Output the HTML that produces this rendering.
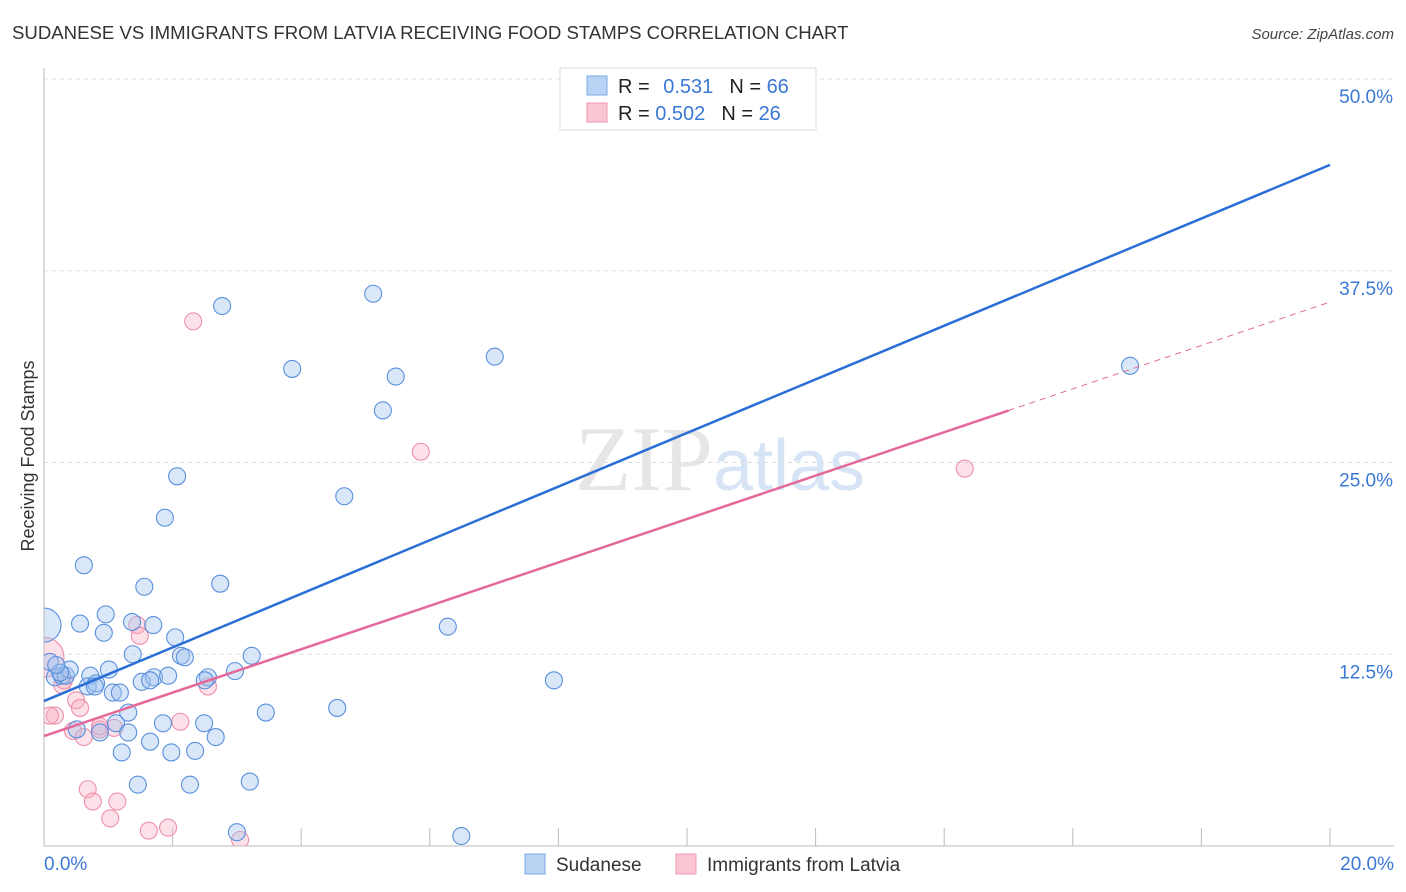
<!DOCTYPE html>
<html><head><meta charset="utf-8">
<style>
body{margin:0;background:#fff;font-family:"Liberation Sans",sans-serif;}
</style></head>
<body>
<svg id="chart" width="1406" height="892" xmlns="http://www.w3.org/2000/svg" style="display:block">
<text x="12" y="39" font-size="18.6" fill="#333">SUDANESE VS IMMIGRANTS FROM LATVIA RECEIVING FOOD STAMPS CORRELATION CHART</text>
<text x="1394" y="39" font-size="15" fill="#444" text-anchor="end" font-style="italic">Source: ZipAtlas.com</text>
<text x="720" y="490" font-size="92" text-anchor="middle" fill="#e6e6e6" font-family="Liberation Serif,serif">ZIP<tspan fill="#d6e4f5" font-family="Liberation Sans,sans-serif" font-size="72">atlas</tspan></text>
<g id="grid"></g>
<g id="axes"></g>
<g id="points"></g>
<g id="lines"></g>
<text transform="translate(34,456) rotate(-90)" font-size="18" fill="#333" text-anchor="middle">Receiving Food Stamps</text>
<g>
<rect x="560" y="68" width="256" height="62" fill="#fff" stroke="#ddd"/>
<rect x="587" y="76" width="20" height="19" fill="#b9d3f5" stroke="#7aa8e6"/>
<rect x="587" y="103" width="20" height="19" fill="#fbc6d4" stroke="#ef97b0"/>
<text x="618" y="93" font-size="20" fill="#222">R = <tspan fill="#3a78d4" dx="8">0.531</tspan><tspan dx="16" fill="#222">N = </tspan><tspan fill="#3a78d4">66</tspan></text>
<text x="618" y="120" font-size="20" fill="#222">R = <tspan fill="#3a78d4">0.502</tspan><tspan dx="16" fill="#222">N = </tspan><tspan fill="#3a78d4">26</tspan></text>
</g>
<g>
<rect x="525" y="854" width="20" height="20" fill="#b9d3f5" stroke="#7aa8e6"/>
<text x="556" y="871" font-size="19" fill="#333">Sudanese</text>
<rect x="676" y="854" width="20" height="20" fill="#fbc6d4" stroke="#ef97b0"/>
<text x="707" y="871" font-size="19" fill="#333">Immigrants from Latvia</text>
</g>
</svg>
<script>
const yTicks=[12.5,25,37.5,50];
const yTickLabels=["12.5%","25.0%","37.5%","50.0%"];
const xTickLabels=["0.0%","20.0%"];
const blueX=[0.0,0.09,0.17,0.28,0.34,0.40,0.25,0.62,0.56,0.72,0.68,0.81,0.93,0.96,1.01,1.07,1.18,0.87,0.51,1.12,1.31,1.31,1.21,1.38,1.37,1.52,1.56,1.70,1.71,1.93,1.85,1.65,1.98,1.46,1.88,2.07,2.04,2.13,2.19,2.55,2.49,2.35,2.67,2.27,2.74,2.77,2.97,3.23,3.45,3.20,3.00,3.86,4.67,4.56,5.12,5.27,5.47,6.28,6.49,7.01,7.93,16.89,0.19,0.79,2.50,1.65];
const blueY=[14.4,12.0,11.0,11.1,11.1,11.5,11.3,18.3,14.5,11.1,10.4,10.6,13.9,15.1,11.5,10.0,10.0,7.4,7.6,8.0,8.7,7.4,6.1,12.5,14.6,10.7,16.9,14.4,11.0,11.1,8.0,6.8,6.1,4.0,21.4,24.1,13.6,12.4,12.3,11.0,8.0,6.2,7.1,4.0,17.1,35.2,11.4,12.4,8.7,4.2,0.9,31.1,22.8,9.0,36.0,28.4,30.6,14.3,0.65,31.9,10.8,31.3,11.8,10.4,10.8,10.8];
const pinkX=[0.0,0.17,0.09,0.28,0.50,0.56,0.45,0.62,0.87,1.09,1.45,1.49,0.68,0.76,1.03,1.14,1.63,1.93,2.12,2.55,3.05,2.32,5.86,14.32,0.31,0.87];
const pinkY=[12.3,8.5,8.5,10.5,9.5,9.0,7.5,7.1,7.6,7.7,14.4,13.7,3.7,2.9,1.8,2.9,1.0,1.2,8.1,10.4,0.4,34.2,25.7,24.6,10.8,7.8];
const blueLine=[9.45,44.4];
const pinkLine=[7.17,35.46];
const pinkSolidEnd=15.0;
const NS="http://www.w3.org/2000/svg";
const X0=44,X1=1330,Y0=846,PY=15.34;
const sx=v=>X0+(X1-X0)*v/20, sy=v=>Y0-v*PY;
function mk(t,a,p){const e=document.createElementNS(NS,t);for(const k in a)e.setAttribute(k,a[k]);p.appendChild(e);return e;}
const grid=document.getElementById('grid'),axes=document.getElementById('axes'),pts=document.getElementById('points'),lines=document.getElementById('lines');
const defs=mk('defs',{},document.getElementById('chart'));
const cp=mk('clipPath',{id:'pc'},defs);mk('rect',{x:X0,y:60,width:1360,height:Y0-60},cp);
pts.setAttribute('clip-path','url(#pc)');
yTicks.forEach((v,i)=>{
 const g=mk('line',{x1:X0,x2:1394,y1:sy(v),y2:sy(v),stroke:'#ddd','stroke-dasharray':'4,4'},grid);
 
 
 const t=mk('text',{x:1393,y:sy(v)+24,'font-size':19,fill:'#3a78d4','text-anchor':'end'},axes);
 t.textContent=yTickLabels[i];
 
 
});
const al=mk('line',{x1:X0,x2:1394,y1:Y0,y2:Y0,stroke:'#bbb'},axes);


const yl=mk('line',{x1:X0,x2:X0,y1:68,y2:Y0,stroke:'#bbb'},axes);


for(let i=0;i<=10;i++){const t=mk('line',{x1:sx(i*2),x2:sx(i*2),y1:Y0,y2:828,stroke:'#bbb'},axes);
 
 }
[[0,'start',X0],[1,'end',1394]].forEach(([i,a,x])=>{const t=mk('text',{x:x,y:870,'font-size':19,fill:'#3a78d4','text-anchor':a},axes);t.textContent=xTickLabels[i];
 
 });
function dots(X,Y,fill,stroke,name,bigR){X.forEach((x,i)=>{const r=(i===0)?bigR:8.5;
 const c=mk('circle',{cx:sx(x),cy:sy(Y[i]),r:r,fill:fill,stroke:stroke,'stroke-width':1.1},pts);
 
 });}
dots(pinkX,pinkY,'rgba(248,170,190,0.35)','#ef8fab','latvia-point',20);
dots(blueX,blueY,'rgba(160,195,240,0.4)','#5a90dd','sudanese-point',17);
const bl=mk('line',{x1:sx(0),y1:sy(blueLine[0]),x2:sx(20),y2:sy(blueLine[1]),stroke:'#2a6fd6','stroke-width':2.5},lines);


const pf=v=>pinkLine[0]+(pinkLine[1]-pinkLine[0])*v/20;
const pl=mk('line',{x1:sx(0),y1:sy(pf(0)),x2:sx(pinkSolidEnd),y2:sy(pf(pinkSolidEnd)),stroke:'#e4689a','stroke-width':2.5},lines);


const pd=mk('line',{x1:sx(pinkSolidEnd),y1:sy(pf(pinkSolidEnd)),x2:sx(20),y2:sy(pf(20)),stroke:'#e4689a','stroke-width':1,'stroke-dasharray':'6,5'},lines);


</script>
</body></html>
